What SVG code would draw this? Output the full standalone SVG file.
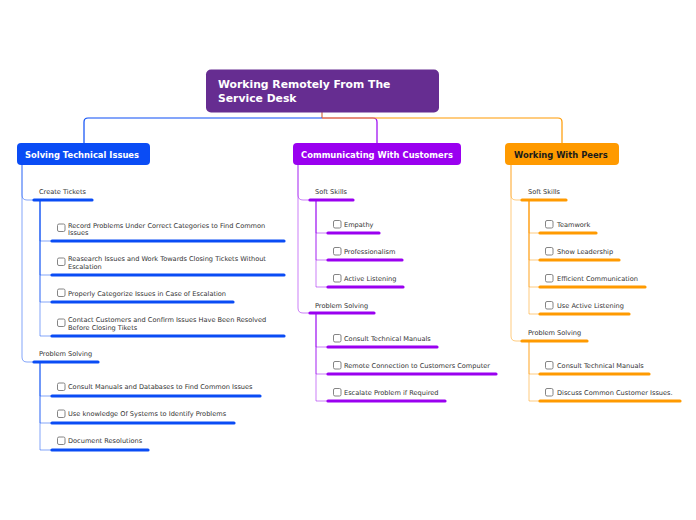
<svg xmlns="http://www.w3.org/2000/svg" width="696" height="520" viewBox="0 0 696 520">
<style>
.t{font-family:"DejaVu Sans",Verdana,sans-serif;font-size:6.6px;fill:#333}
.s{font-family:"DejaVu Sans",Verdana,sans-serif;font-size:6.6px;fill:#333}
.m{font-family:"DejaVu Sans",Verdana,sans-serif;font-size:8.4px;font-weight:bold;fill:#fff}
.r{font-family:"DejaVu Sans",Verdana,sans-serif;font-size:10.8px;font-weight:bold;fill:#fff}
.cb{fill:#fff;stroke:#777;stroke-width:0.9}
.ub{stroke:#0a4cf5;stroke-width:3.2;stroke-linecap:round;fill:none}
.up{stroke:#9a00f0;stroke-width:3.2;stroke-linecap:round;fill:none}
.uo{stroke:#ff9a00;stroke-width:3.2;stroke-linecap:round;fill:none}
.cbl{stroke:#0a4cf5;stroke-width:1;fill:none;opacity:0.5}
.cpl{stroke:#9a00f0;stroke-width:1;fill:none;opacity:0.5}
.col{stroke:#ff9a00;stroke-width:1;fill:none;opacity:0.5}
</style>
<rect width="696" height="520" fill="#fff"/>
<g id="connectors">
<path d="M322 112 V118" stroke="#d36b4a" stroke-width="1.2" fill="none"/>
<path d="M322 118 H88 Q84 118 84 122 V143" stroke="#0a4cf5" stroke-width="1.2" fill="none"/>
<path d="M322 118 H373 Q377 118 377 122 V143" stroke="#9a00f0" stroke-width="1.2" fill="none"/>
<path d="M322 118 H558 Q562 118 562 122 V143" stroke="#ff9a00" stroke-width="1.2" fill="none"/>
<path class="cbl" d="M22 165 V195 Q22 200 27 200 H34"/>
<path class="cbl" d="M22 165 V357 Q22 362 27 362 H34"/>
<path class="cbl" d="M40 200 V241 H52"/>
<path class="cbl" d="M40 200 V275 H52"/>
<path class="cbl" d="M40 200 V302 H52"/>
<path class="cbl" d="M40 200 V336 H52"/>
<path class="cbl" d="M40 362 V396 H52"/>
<path class="cbl" d="M40 362 V423 H52"/>
<path class="cbl" d="M40 362 V450 H52"/>
<path class="cpl" d="M298 165 V195 Q298 200 303 200 H310"/>
<path class="cpl" d="M298 165 V308 Q298 313 303 313 H310"/>
<path class="cpl" d="M316 200 V233 H328"/>
<path class="cpl" d="M316 200 V260 H328"/>
<path class="cpl" d="M316 200 V287 H328"/>
<path class="cpl" d="M316 313 V347 H328"/>
<path class="cpl" d="M316 313 V374 H328"/>
<path class="cpl" d="M316 313 V401 H328"/>
<path class="col" d="M511 165 V195 Q511 200 516 200 H522"/>
<path class="col" d="M511 165 V336 Q511 341 516 341 H522"/>
<path class="col" d="M529 200 V233 H540"/>
<path class="col" d="M529 200 V260 H540"/>
<path class="col" d="M529 200 V287 H540"/>
<path class="col" d="M529 200 V314 H540"/>
<path class="col" d="M529 341 V374 H540"/>
<path class="col" d="M529 341 V401 H540"/>
</g>
<g id="root">
<rect x="206" y="69.5" width="233" height="43" rx="5" fill="#662d91"/>
<text class="r" x="218" y="88">Working Remotely From The</text>
<text class="r" x="218" y="102">Service Desk</text>
</g>
<g id="n-solving">
<rect x="17" y="143" width="133" height="22" rx="4" fill="#0a4cf5"/>
<text class="m" x="25" y="158">Solving Technical Issues</text>
</g>
<g id="n-create">
<text class="s" x="39" y="194">Create Tickets</text>
<path class="ub" d="M34 200 H92"/>
</g>
<g id="n-record">
<rect class="cb" x="57.5" y="224" width="7.5" height="7.5" rx="1.5"/>
<text class="t" x="68" y="228">Record Problems Under Correct Categories to Find Common</text>
<text class="t" x="68" y="235">Issues</text>
<path class="ub" d="M52 241 H284"/>
</g>
<g id="n-research">
<rect class="cb" x="57.5" y="258" width="7.5" height="7.5" rx="1.5"/>
<text class="t" x="68" y="261">Reasearch Issues and Work Towards Closing Tickets Without</text>
<text class="t" x="68" y="269">Escalation</text>
<path class="ub" d="M52 275 H284"/>
</g>
<g id="n-categorize">
<rect class="cb" x="57.5" y="289" width="7.5" height="7.5" rx="1.5"/>
<text class="t" x="68" y="296">Properly Categorize Issues in Case of Escalation</text>
<path class="ub" d="M52 302 H233"/>
</g>
<g id="n-contact">
<rect class="cb" x="57.5" y="319" width="7.5" height="7.5" rx="1.5"/>
<text class="t" x="68" y="322">Contact Customers and Confirm Issues Have  Been Resolved</text>
<text class="t" x="68" y="330">Before Closing Tikets</text>
<path class="ub" d="M52 336 H284"/>
</g>
<g id="n-problem1">
<text class="s" x="39" y="356">Problem Solving</text>
<path class="ub" d="M34 362 H98"/>
</g>
<g id="n-consultmanuals">
<rect class="cb" x="57.5" y="383" width="7.5" height="7.5" rx="1.5"/>
<text class="t" x="68" y="389">Consult Manuals and Databases to Find Common Issues</text>
<path class="ub" d="M52 396 H260"/>
</g>
<g id="n-knowledge">
<rect class="cb" x="57.5" y="410" width="7.5" height="7.5" rx="1.5"/>
<text class="t" x="68" y="416">Use knowledge Of Systems to Identify Problems</text>
<path class="ub" d="M52 423 H234"/>
</g>
<g id="n-document">
<rect class="cb" x="57.5" y="437" width="7.5" height="7.5" rx="1.5"/>
<text class="t" x="68" y="443">Document Resolutions</text>
<path class="ub" d="M52 450 H148"/>
</g>
<g id="n-communicating">
<rect x="293" y="143" width="168" height="22" rx="4" fill="#9a00f0"/>
<text class="m" x="301" y="158">Communicating With Customers</text>
</g>
<g id="n-softskills1">
<text class="s" x="315" y="194">Soft Skills</text>
<path class="up" d="M310 200 H353"/>
</g>
<g id="n-empathy">
<rect class="cb" x="333.5" y="220.5" width="7.5" height="7.5" rx="1.5"/>
<text class="t" x="344" y="227">Empathy</text>
<path class="up" d="M328 233 H379"/>
</g>
<g id="n-professionalism">
<rect class="cb" x="333.5" y="247.5" width="7.5" height="7.5" rx="1.5"/>
<text class="t" x="344" y="254">Professionalism</text>
<path class="up" d="M328 260 H402"/>
</g>
<g id="n-activelistening">
<rect class="cb" x="333.5" y="274.5" width="7.5" height="7.5" rx="1.5"/>
<text class="t" x="344" y="281">Active Listening</text>
<path class="up" d="M328 287 H403"/>
</g>
<g id="n-problem2">
<text class="s" x="315" y="308">Problem Solving</text>
<path class="up" d="M310 313 H374"/>
</g>
<g id="n-consulttech1">
<rect class="cb" x="333.5" y="334.5" width="7.5" height="7.5" rx="1.5"/>
<text class="t" x="344" y="341">Consult Technical Manuals</text>
<path class="up" d="M328 347 H437"/>
</g>
<g id="n-remote">
<rect class="cb" x="333.5" y="361.5" width="7.5" height="7.5" rx="1.5"/>
<text class="t" x="344" y="368">Remote Connection to Customers Computer</text>
<path class="up" d="M328 374 H496"/>
</g>
<g id="n-escalate">
<rect class="cb" x="333.5" y="388.5" width="7.5" height="7.5" rx="1.5"/>
<text class="t" x="344" y="395">Escalate Problem if Required</text>
<path class="up" d="M328 401 H445"/>
</g>
<g id="n-peers">
<rect x="505" y="143" width="114" height="22" rx="4" fill="#ff9a00"/>
<text class="m" x="514" y="158" style="fill:#1a1a1a">Working With Peers</text>
</g>
<g id="n-softskills2">
<text class="s" x="528" y="194">Soft Skills</text>
<path class="uo" d="M522 200 H566"/>
</g>
<g id="n-teamwork">
<rect class="cb" x="545.5" y="220.5" width="7.5" height="7.5" rx="1.5"/>
<text class="t" x="557" y="227">Teamwork</text>
<path class="uo" d="M540 233 H596"/>
</g>
<g id="n-leadership">
<rect class="cb" x="545.5" y="247.5" width="7.5" height="7.5" rx="1.5"/>
<text class="t" x="557" y="254">Show Leadership</text>
<path class="uo" d="M540 260 H619"/>
</g>
<g id="n-efficient">
<rect class="cb" x="545.5" y="274.5" width="7.5" height="7.5" rx="1.5"/>
<text class="t" x="557" y="281">Efficient Communication</text>
<path class="uo" d="M540 287 H645"/>
</g>
<g id="n-useactive">
<rect class="cb" x="545.5" y="301.5" width="7.5" height="7.5" rx="1.5"/>
<text class="t" x="557" y="308">Use Active Listening</text>
<path class="uo" d="M540 314 H629"/>
</g>
<g id="n-problem3">
<text class="s" x="528" y="335">Problem Solving</text>
<path class="uo" d="M522 341 H587"/>
</g>
<g id="n-consulttech2">
<rect class="cb" x="545.5" y="361.5" width="7.5" height="7.5" rx="1.5"/>
<text class="t" x="557" y="368">Consult Technical Manuals</text>
<path class="uo" d="M540 374 H649"/>
</g>
<g id="n-discuss">
<rect class="cb" x="545.5" y="388.5" width="7.5" height="7.5" rx="1.5"/>
<text class="t" x="557" y="395">Discuss Common Customer Issues.</text>
<path class="uo" d="M540 401 H680"/>
</g>
</svg>
